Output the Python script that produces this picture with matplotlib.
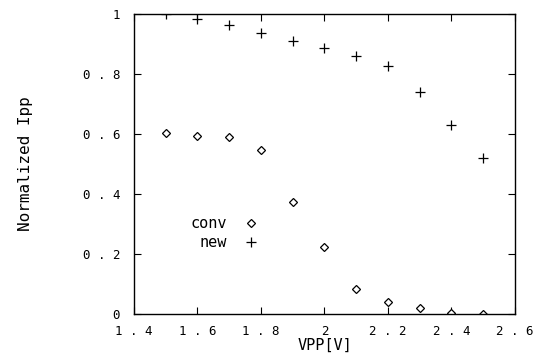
import matplotlib
matplotlib.use('Agg')
import matplotlib.pyplot as plt
from matplotlib.ticker import FuncFormatter

vpp = [1.5, 1.6, 1.7, 1.8, 1.9, 2.0, 2.1, 2.2, 2.3, 2.4, 2.5]
conv = [0.603, 0.593, 0.59, 0.547, 0.373, 0.223, 0.083, 0.04, 0.02, 0.003, 0.0]
new = [1.0, 0.983, 0.963, 0.937, 0.91, 0.887, 0.86, 0.827, 0.74, 0.63, 0.52]

plt.rcParams['font.family'] = 'DejaVu Sans Mono'

fig = plt.figure(figsize=(5.37, 3.58), dpi=100)
ax = fig.add_axes([0.2495, 0.1229, 0.7095, 0.838])

ax.plot(vpp, conv, linestyle='none', marker='D', markersize=4, mfc='white',
        mec='black', mew=0.9)
ax.plot(vpp, new, linestyle='none', marker='+', markersize=7, color='black',
        mew=0.9)

ax.set_xlim(1.4, 2.6)
ax.set_ylim(0, 1)
ax.set_xticks([1.4, 1.6, 1.8, 2.0, 2.2, 2.4, 2.6])
ax.set_yticks([0, 0.2, 0.4, 0.6, 0.8, 1.0])
spaced = FuncFormatter(lambda v, p: ' '.join('%g' % round(v, 2)))
ax.xaxis.set_major_formatter(spaced)
ax.yaxis.set_major_formatter(spaced)
ax.tick_params(direction='in', top=True, right=True, length=5, labelsize=9)
ax.tick_params(axis='x', pad=8)
ax.tick_params(axis='y', pad=10)
for s in ax.spines.values():
    s.set_linewidth(1.0)

ax.set_xlabel('VPP[V]', fontsize=11, labelpad=0)
ax.set_ylabel('Normalized Ipp', fontsize=11.5, labelpad=36)

# legend drawn as text with sample markers
ax.text(1.693, 0.303, 'conv', ha='right', va='center', fontsize=11)
ax.text(1.693, 0.24, 'new', ha='right', va='center', fontsize=11)
ax.plot([1.768], [0.303], linestyle='none', marker='D', markersize=4, mfc='white',
        mec='black', mew=0.9)
ax.plot([1.768], [0.24], linestyle='none', marker='+', markersize=7, color='black',
        mew=0.9)

fig.savefig('out.png', dpi=100)
